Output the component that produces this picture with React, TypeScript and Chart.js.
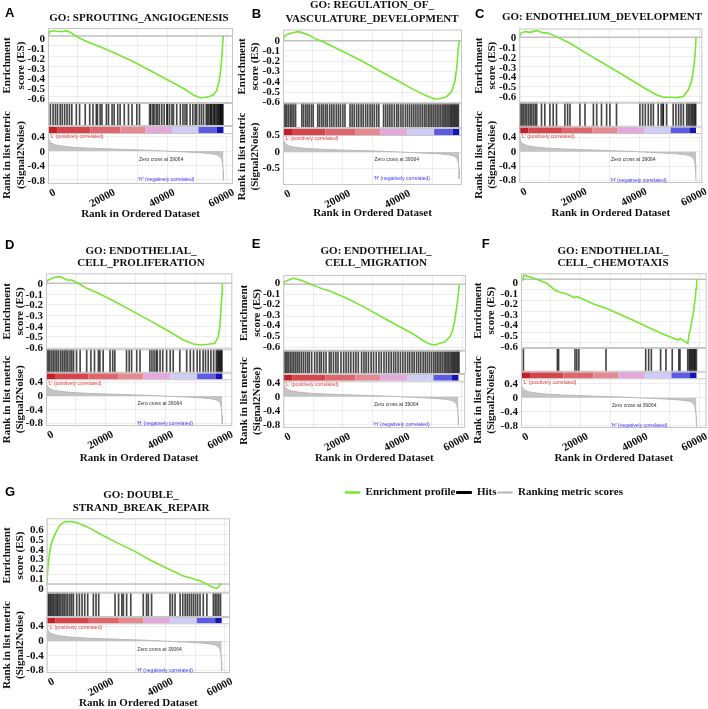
import React, { useEffect, useRef } from 'react';
import { Chart, registerables } from 'chart.js';

Chart.register(...registerables);

const SERIF = "'Liberation Serif', 'Times New Roman', serif";
const SANS = "'Liberation Sans', Arial, sans-serif";
const LIME = '#78e632';
const TEXT = '#111111';
const GRID = 'rgba(0,0,0,0.07)';
const FRAME = '#c6c6c6';
const HIT_COLOR = 'rgba(0,0,0,0.72)';
const FONT_PX = 11;
const LINE_H = FONT_PX * 1.2;

// ---------------- shared ranked list ----------------
const rankedListLength = 58900;
const zeroCrossRank = 39064;
const xTickValues = [0, 10000, 20000, 30000, 40000, 50000, 60000];
const xLabelEvery = 20000;
const esTicksNegative = [0, -0.1, -0.2, -0.3, -0.4, -0.5, -0.6];
const esTicksPositive = [0, 0.1, 0.2, 0.3, 0.4, 0.5, 0.6];
const metricTicksStd = [0.4, 0, -0.4, -0.8];
const metricTicksB = [0.5, 0, -0.5];

const metricRanks = [0, 200, 600, 1200, 2500, 4500, 7000, 10000, 14000, 19000, 25000, 31000, 36000, 39064, 43000, 48000, 52000, 55000, 56800, 57800, 58300, 58600, 58800, 58900];
const metricValues = [0.42, 0.34, 0.27, 0.22, 0.17, 0.14, 0.115, 0.095, 0.078, 0.062, 0.045, 0.028, 0.012, 0, -0.015, -0.035, -0.055, -0.08, -0.11, -0.16, -0.23, -0.35, -0.55, -0.82];

const bandEdges = [0, 3000, 14200, 24300, 32600, 41600, 50500, 56700, 58900];
const bandColors = ['#c41f26', '#d7444a', '#df666c', '#e78a90', '#e5a8dc', '#cdcdf7', '#5b5be6', '#1414b2'];

const metricLabelL = "'L' (positively correlated)";
const metricLabelH = "'H' (negatively correlated)";
const metricLabelZero = 'Zero cross at ' + zeroCrossRank;
const labelLRank = 600;
const labelZeroRank = 38000;
const labelZeroValue = -0.23;
const labelHRank = 39700;
const labelHValue = -0.8;

const legendLabels = ['Enrichment profile', 'Hits', 'Ranking metric scores'];
const legendColors = [LIME, '#000000', '#b4b4b4'];
const legendLineWidths = [0.5, 1, 0];

// ---------------- A: SPROUTING_ANGIOGENESIS ----------------
const titleA = ['GO: SPROUTING_ANGIOGENESIS'];
const esRankA = [0, 560, 1900, 4700, 5800, 7500, 9700, 13100, 17500, 23100, 28700, 34300, 39900, 45500, 48800, 51000, 53300, 55500, 56600, 57500, 58100, 58500, 58800];
const esScoreA = [0, 0.043, 0.053, 0.043, 0.053, 0.037, -0.007, -0.057, -0.107, -0.18, -0.257, -0.345, -0.435, -0.525, -0.59, -0.617, -0.613, -0.59, -0.547, -0.44, -0.307, -0.14, 0];
const hitsA = [800, 1700, 2500, 3200, 4100, 4800, 5600, 6400, 7200, 8000, 9500, 10600, 12500, 14000, 15100, 16200, 16600, 17500, 18100, 19600, 20300, 21500, 22200, 23400, 24200, 25600, 27000, 28200, 29800, 30700, 34100, 34500, 35200, 35600, 36300, 36800, 37400, 38200, 39000, 39900, 40100, 40800, 41600, 42100, 43200, 44400, 45300, 46000, 46600, 47700, 48600, 49400, 49900, 50800, 51500, 52200, 53100, 53500, 53900, 54400, 54700, 55000, 55500, 55800, 56100, 56600, 56900, 57200, 57500, 57800, 58000, 58200, 58500, 58700];

// ---------------- B: REGULATION_OF_VASCULATURE_DEVELOPMENT ----------------
const titleB = ['GO: REGULATION_OF_', 'VASCULATURE_DEVELOPMENT'];
const esRankB = [0, 560, 1700, 3300, 5000, 6100, 8400, 11200, 13400, 15600, 21200, 26800, 32300, 37900, 43500, 47900, 50700, 52400, 54600, 56300, 57400, 58100, 58500, 58900];
const esScoreB = [0, 0.045, 0.065, 0.078, 0.088, 0.081, 0.058, 0.013, -0.01, -0.042, -0.123, -0.205, -0.295, -0.383, -0.474, -0.536, -0.568, -0.565, -0.545, -0.497, -0.4, -0.253, -0.091, 0];
const hitsB = [300, 800, 1300, 1900, 2500, 3000, 3600, 4200, 6300, 6900, 7600, 8200, 8800, 9500, 10100, 11600, 12200, 12900, 13500, 14200, 14800, 15600, 16300, 17000, 17800, 18500, 19200, 20000, 20700, 22400, 23100, 23800, 24600, 25300, 26100, 26800, 27600, 28300, 29100, 29800, 30500, 31300, 32000, 33600, 34300, 35000, 35700, 36400, 37200, 38000, 38600, 39400, 40100, 40900, 41600, 42300, 43000, 43700, 44400, 45100, 45800, 46500, 47200, 47800, 48500, 49100, 49700, 50300, 50900, 51500, 52100, 52700, 53300, 53800, 54300, 54800, 55300, 55800, 56200, 56600, 57000, 57400, 57800, 58200, 58600];

// ---------------- C: ENDOTHELIUM_DEVELOPMENT ----------------
const titleC = ['GO: ENDOTHELIUM_DEVELOPMENT'];
const esRankC = [0, 440, 1900, 3600, 5800, 7400, 9700, 12400, 16900, 22400, 28000, 33600, 39100, 42400, 45800, 48000, 50200, 52400, 54700, 56300, 57400, 58200, 58700, 58900];
const esScoreC = [0, 0.04, 0.058, 0.05, 0.068, 0.05, 0.04, 0.007, -0.061, -0.163, -0.264, -0.366, -0.468, -0.529, -0.586, -0.61, -0.61, -0.614, -0.603, -0.536, -0.45, -0.298, -0.129, 0];
const hitsC = [300, 800, 1300, 1900, 2400, 3000, 3600, 4100, 4700, 5300, 5800, 7400, 8500, 10200, 11300, 12400, 15200, 16100, 16900, 20200, 21900, 24700, 25800, 27400, 29100, 30200, 32400, 40200, 41100, 42000, 43000, 43900, 44700, 46300, 47300, 47900, 48000, 49100, 51300, 52200, 53100, 53900, 54700, 55800, 56300, 56800, 57300, 57700, 58100, 58500, 58800];

// ---------------- D: ENDOTHELIAL_CELL_PROLIFERATION ----------------
const titleD = ['GO: ENDOTHELIAL_', 'CELL_PROLIFERATION'];
const esRankD = [0, 450, 1300, 3000, 4100, 5200, 6900, 8600, 10800, 13600, 18000, 23600, 29200, 34700, 40300, 45900, 49200, 51400, 54200, 56400, 57500, 58100, 58500, 58800, 58900];
const esScoreD = [0, 0.025, 0.037, 0.056, 0.062, 0.056, 0.031, 0.031, 0, -0.047, -0.1, -0.18, -0.265, -0.349, -0.436, -0.53, -0.567, -0.576, -0.57, -0.56, -0.5, -0.405, -0.218, -0.093, 0];
const hitsD = [200, 700, 1200, 1800, 2400, 3000, 3600, 4200, 4900, 5500, 6100, 6700, 7300, 8000, 8600, 9200, 10200, 11400, 13600, 15000, 16200, 17500, 18000, 19100, 21400, 22300, 23000, 26900, 27800, 28600, 30300, 31400, 34700, 35400, 36100, 36800, 37200, 38100, 39000, 40300, 41500, 42500, 44700, 47000, 48200, 49300, 50500, 51400, 52500, 53300, 54200, 55100, 56000, 56900, 57300, 57600, 57900, 58200, 58500, 58800];

// ---------------- E: ENDOTHELIAL_CELL_MIGRATION ----------------
const titleE = ['GO: ENDOTHELIAL_', 'CELL_MIGRATION'];
const esRankE = [0, 560, 1700, 3300, 4500, 6100, 8900, 11200, 13400, 15600, 21200, 26800, 32400, 37900, 43500, 47400, 49100, 50800, 52400, 54100, 55800, 56700, 57400, 57900, 58500, 58900];
const esScoreE = [0, 0.025, 0.041, 0.057, 0.05, 0.035, 0.003, -0.022, -0.047, -0.063, -0.132, -0.211, -0.3, -0.385, -0.47, -0.543, -0.565, -0.574, -0.558, -0.543, -0.495, -0.432, -0.338, -0.243, -0.117, 0];
const hitsE = [200, 700, 1200, 1700, 2300, 2900, 3500, 4100, 4700, 5300, 6000, 6700, 7400, 8100, 8700, 9500, 10500, 11300, 12100, 12700, 13500, 14300, 15400, 16000, 16800, 17600, 18300, 19300, 20200, 21000, 21800, 22600, 23500, 24300, 25100, 26200, 27000, 27700, 28500, 29400, 30200, 31100, 32000, 32800, 33700, 34500, 35300, 36100, 36900, 37600, 38400, 39200, 40000, 40800, 41600, 42300, 43100, 43800, 44600, 45300, 46000, 46800, 47500, 48200, 48900, 49600, 50300, 50900, 51500, 52100, 52700, 53300, 53900, 54400, 54900, 55400, 55900, 56400, 56800, 57200, 57600, 58000, 58400, 58800];

// ---------------- F: ENDOTHELIAL_CELL_CHEMOTAXIS ----------------
const titleF = ['GO: ENDOTHELIAL_', 'CELL_CHEMOTAXIS'];
const esRankF = [0, 560, 1000, 1900, 5300, 8600, 11700, 12200, 12500, 15300, 17900, 18400, 19800, 22000, 24300, 28500, 29800, 35400, 41000, 46600, 51100, 52800, 53300, 55000, 55900, 56400, 56900, 57300, 57800, 58100, 58500, 58700, 58900];
const esScoreF = [0, -0.006, 0.041, 0.032, 0, -0.038, -0.11, -0.107, -0.117, -0.139, -0.174, -0.164, -0.174, -0.202, -0.233, -0.274, -0.29, -0.36, -0.432, -0.505, -0.558, -0.574, -0.558, -0.59, -0.606, -0.511, -0.464, -0.385, -0.322, -0.243, -0.164, -0.085, 0];
const hitsF = [800, 12200, 12600, 18100, 18700, 19400, 28500, 41800, 42800, 43700, 46800, 48600, 50700, 52900, 53300, 55900, 56400, 56700, 57100, 57400, 57800, 58100, 58400, 58800];

// ---------------- G: DOUBLE_STRAND_BREAK_REPAIR ----------------
const titleG = ['GO: DOUBLE_', 'STRAND_BREAK_REPAIR'];
const esRankG = [0, 340, 800, 1300, 2200, 3400, 4500, 5600, 6700, 8400, 10100, 13500, 18000, 23600, 29200, 34800, 40400, 46000, 51600, 55000, 57200, 57900, 58300, 58900];
const esScoreG = [0, 0.142, 0.277, 0.378, 0.463, 0.54, 0.598, 0.622, 0.632, 0.632, 0.622, 0.581, 0.507, 0.419, 0.338, 0.243, 0.159, 0.081, 0.034, -0.02, -0.047, -0.027, -0.003, 0];
const hitsG = [300, 700, 1100, 1500, 2000, 2400, 2900, 3400, 3800, 4300, 4800, 5400, 5900, 6500, 7100, 7800, 8400, 9000, 10100, 11000, 11900, 12800, 13800, 15700, 16600, 17500, 23000, 24200, 25300, 25800, 26900, 28300, 32500, 33600, 34200, 35300, 41500, 42300, 43200, 44900, 45800, 46600, 47300, 48000, 48700, 49400, 50100, 50800, 51600, 52700, 53900, 56100, 56700, 57300, 57900, 58500];

// ---------------- layout (pixel geometry of each panel) ----------------
type Geo = {
  box: number[]; L: number; R: number; dataEndX: number;
  esTop: number; esZero: number; esStep: number; esBot: number;
  bandTop: number; bandBot: number; metZero: number; metStep: number; metBot: number;
  xTitleY: number; yTitleX: number; titleCX: number; titleY: number[];
  letterX: number; letterY: number; esLabelOffset: number; metLabelOffset: number;
};

type PanelDef = {
  letter: string; title: string[]; esRanks: number[]; esScores: number[]; hits: number[];
  esTicks: number[]; metricTicks: number[]; geo: Geo;
};

const panels: PanelDef[] = [
  { letter: 'A', title: titleA, esRanks: esRankA, esScores: esScoreA, hits: hitsA, esTicks: esTicksNegative, metricTicks: metricTicksStd,
    geo: { box: [0, 0, 235, 230], L: 48, R: 233, dataEndX: 223.5, esTop: 28, esZero: 36, esStep: 10, esBot: 103, bandTop: 126, bandBot: 133, metZero: 151, metStep: 3.6, metBot: 184, xTitleY: 214.3, yTitleX: 7.5, titleCX: 139, titleY: [18], letterX: 5, letterY: 8, esLabelOffset: 3.3, metLabelOffset: 1 } },
  { letter: 'B', title: titleB, esRanks: esRankB, esScores: esScoreB, hits: hitsB, esTicks: esTicksNegative, metricTicks: metricTicksB,
    geo: { box: [235, 0, 235, 230], L: 283, R: 462, dataEndX: 459.3, esTop: 29.5, esZero: 40.7, esStep: 10.27, esBot: 103.3, bandTop: 128, bandBot: 135, metZero: 152, metStep: 3.3, metBot: 185, xTitleY: 213.3, yTitleX: 242, titleCX: 372, titleY: [5.5, 19], letterX: 251.7, letterY: 8.3, esLabelOffset: 0, metLabelOffset: 0 } },
  { letter: 'C', title: titleC, esRanks: esRankC, esScores: esScoreC, hits: hitsC, esTicks: esTicksNegative, metricTicks: metricTicksStd,
    geo: { box: [470, 0, 238, 230], L: 519.3, R: 702.3, dataEndX: 696, esTop: 28.5, esZero: 37.3, esStep: 9.83, esBot: 102.7, bandTop: 126.7, bandBot: 133, metZero: 151.7, metStep: 3.6, metBot: 183, xTitleY: 213.3, yTitleX: 479, titleCX: 602, titleY: [17.3], letterX: 475, letterY: 8.3, esLabelOffset: 1, metLabelOffset: 0 } },
  { letter: 'D', title: titleD, esRanks: esRankD, esScores: esScoreD, hits: hitsD, esTicks: esTicksNegative, metricTicks: metricTicksStd,
    geo: { box: [0, 230, 235, 238], L: 46, R: 232.3, dataEndX: 222.3, esTop: 273.3, esZero: 283.3, esStep: 10.7, esBot: 349.3, bandTop: 372.7, bandBot: 379.3, metZero: 396, metStep: 3.43, metBot: 426, xTitleY: 458, yTitleX: 7, titleCX: 141, titleY: [250.7, 263.3], letterX: 5, letterY: 240, esLabelOffset: 0.7, metLabelOffset: 0 } },
  { letter: 'E', title: titleE, esRanks: esRankE, esScores: esScoreE, hits: hitsE, esTicks: esTicksNegative, metricTicks: metricTicksStd,
    geo: { box: [235, 230, 235, 238], L: 283.3, R: 466, dataEndX: 459.3, esTop: 275, esZero: 284.3, esStep: 10.57, esBot: 350.7, bandTop: 374, bandBot: 380.7, metZero: 396.7, metStep: 3.5, metBot: 428, xTitleY: 458, yTitleX: 243.8, titleCX: 376, titleY: [250.7, 263.3], letterX: 251.7, letterY: 238.3, esLabelOffset: -1, metLabelOffset: 0 } },
  { letter: 'F', title: titleF, esRanks: esRankF, esScores: esScoreF, hits: hitsF, esTicks: esTicksNegative, metricTicks: metricTicksStd,
    geo: { box: [470, 230, 238, 238], L: 521, R: 706.7, dataEndX: 696.7, esTop: 273.3, esZero: 279.3, esStep: 10.57, esBot: 348, bandTop: 371.7, bandBot: 378.3, metZero: 397.7, metStep: 3.5, metBot: 428, xTitleY: 458, yTitleX: 478, titleCX: 613, titleY: [250.7, 263.3], letterX: 481.7, letterY: 238.3, esLabelOffset: 4, metLabelOffset: 0 } },
  { letter: 'G', title: titleG, esRanks: esRankG, esScores: esScoreG, hits: hitsG, esTicks: esTicksPositive, metricTicks: metricTicksStd,
    geo: { box: [0, 460, 235, 249], L: 46.7, R: 230, dataEndX: 221.7, esTop: 518.3, esZero: 584, esStep: 9.87, esBot: 592.7, bandTop: 617, bandBot: 623.3, metZero: 641, metStep: 3.67, metBot: 673, xTitleY: 703.3, yTitleX: 7.2, titleCX: 141, titleY: [495, 508.3], letterX: 5, letterY: 486.7, esLabelOffset: 5.2, metLabelOffset: 0 } },
];

const boldFont = { family: SERIF, size: FONT_PX, weight: 'bold' as const };
const fmtTick = (v: any) => (Math.abs(Number(v)) < 1e-9 ? '0' : Number(v).toFixed(1));
const setTicks = (vals: number[]) => (scale: any) => {
  scale.ticks = vals.map((v) => ({ value: v }));
};
const baseOptions = {
  responsive: false,
  animation: false as const,
  events: [] as any[],
  plugins: { legend: { display: false }, tooltip: { enabled: false }, title: { display: false } },
};

function drawFrame(ctx: CanvasRenderingContext2D, a: any) {
  ctx.save();
  ctx.strokeStyle = FRAME;
  ctx.lineWidth = 1;
  ctx.strokeRect(a.left + 0.5, a.top + 0.5, a.right - a.left - 1, a.bottom - a.top - 1);
  ctx.restore();
}

function buildPanel(p: PanelDef, c1: HTMLCanvasElement, c2: HTMLCanvasElement, c3: HTMLCanvasElement): Chart[] {
  const g = p.geo;
  const [px, py, pw, ph] = g.box;
  const xMax = (rankedListLength * (g.R - g.L)) / (g.dataEndX - g.L);
  const axisLeft = g.yTitleX - LINE_H / 2;
  const axisW = g.L - axisLeft;
  const padRight = px + pw - g.R;
  const esUnit = g.esStep * 10;
  const esMax = (g.esZero - g.esTop) / esUnit;
  const esMin = -(g.esBot - g.esZero) / esUnit;
  const metUnit = g.metStep * 10;
  const metMax = (g.metZero - g.bandTop) / metUnit;
  const metMin = -(g.metBot - g.metZero) / metUnit;
  const padBottomMetric = ph - LINE_H / 2 - (g.xTitleY - py);
  const xAxisH = ph - padBottomMetric - (g.metBot - py);
  const bandH = g.bandBot - g.bandTop;
  const xTicks = xTickValues.filter((v) => v <= xMax);

  const es = new Chart(c1, {
    type: 'line',
    data: {
      datasets: [{
        data: p.esRanks.map((r, i) => ({ x: r, y: p.esScores[i] })),
        borderColor: LIME, borderWidth: 1.6, pointRadius: 0, fill: false, tension: 0,
      }],
    },
    options: {
      ...baseOptions,
      layout: { padding: { left: axisLeft - px, right: padRight, top: g.esTop - py, bottom: py + ph - g.esBot } },
      scales: {
        x: {
          type: 'linear', min: 0, max: xMax, offset: false, afterBuildTicks: setTicks(xTicks),
          ticks: { display: false }, grid: { color: GRID, drawTicks: false }, border: { display: false },
        },
        y: {
          type: 'linear', min: esMin, max: esMax, afterBuildTicks: setTicks(p.esTicks),
          afterFit: (s: any) => { s.width = axisW; },
          ticks: { font: boldFont, color: TEXT, padding: 3, autoSkip: false, labelOffset: g.esLabelOffset, callback: fmtTick },
          grid: { color: GRID, drawTicks: false }, border: { display: false },
          title: { display: true, text: ['Enrichment', 'score (ES)'], font: boldFont, color: TEXT, padding: 0 },
        },
      },
    } as any,
    plugins: [{
      id: 'esDecor',
      beforeDatasetsDraw(chart: any) {
        const { ctx, chartArea: a, scales } = chart;
        const y0 = scales.y.getPixelForValue(0);
        ctx.save();
        ctx.strokeStyle = '#c2c2c2';
        ctx.lineWidth = 1.5;
        ctx.beginPath();
        ctx.moveTo(a.left, y0);
        ctx.lineTo(a.right, y0);
        ctx.stroke();
        ctx.restore();
      },
      afterDraw(chart: any) {
        const { ctx, chartArea: a } = chart;
        drawFrame(ctx, a);
        ctx.save();
        ctx.font = `bold ${FONT_PX}px ${SERIF}`;
        ctx.fillStyle = TEXT;
        ctx.textAlign = 'center';
        ctx.textBaseline = 'middle';
        p.title.forEach((line, i) => ctx.fillText(line, g.titleCX - px, g.titleY[i] - py));
        ctx.restore();
      },
    }],
  });

  const hits = new Chart(c2, {
    type: 'bar',
    data: {
      datasets: [{
        data: p.hits.map((r) => ({ x: r, y: 1 })),
        backgroundColor: HIT_COLOR, barThickness: 1, borderWidth: 0,
      }],
    },
    options: {
      ...baseOptions,
      layout: { padding: { left: g.L - px, right: padRight, top: g.esBot - py, bottom: py + ph - g.bandTop } },
      scales: {
        x: { type: 'linear', min: 0, max: xMax, offset: false, display: false, grid: { offset: false } },
        y: { type: 'linear', min: 0, max: 1, display: false },
      },
    } as any,
    plugins: [{ id: 'hitsFrame', afterDraw(chart: any) { drawFrame(chart.ctx, chart.chartArea); } }],
  });

  const metric = new Chart(c3, {
    type: 'line',
    data: {
      datasets: [{
        data: metricRanks.map((r, i) => ({ x: r, y: metricValues[i] })),
        borderColor: '#b9b9b9', borderWidth: 1, backgroundColor: '#c4c4c4', fill: 'origin', pointRadius: 0, tension: 0,
      }],
    },
    options: {
      ...baseOptions,
      layout: { padding: { left: axisLeft - px, right: padRight, top: g.bandTop - py, bottom: padBottomMetric } },
      scales: {
        x: {
          type: 'linear', min: 0, max: xMax, offset: false, afterBuildTicks: setTicks(xTicks),
          afterFit: (s: any) => { s.height = xAxisH; },
          ticks: {
            font: boldFont, color: TEXT, autoSkip: false, minRotation: 28, maxRotation: 28, labelOffset: 7, padding: 2,
            callback: (v: any) => (Number(v) % xLabelEvery === 0 ? String(v) : ''),
          },
          grid: { color: GRID, drawTicks: false }, border: { display: false },
          title: { display: true, text: 'Rank in Ordered Dataset', font: boldFont, color: TEXT, padding: 0 },
        },
        y: {
          type: 'linear', min: metMin, max: metMax, afterBuildTicks: setTicks(p.metricTicks),
          afterFit: (s: any) => { s.width = axisW; },
          ticks: { font: boldFont, color: TEXT, padding: 3, autoSkip: false, labelOffset: g.metLabelOffset, callback: fmtTick },
          grid: { color: GRID, drawTicks: false }, border: { display: false },
          title: { display: true, text: ['Rank in list metric', '(Signal2Noise)'], font: boldFont, color: TEXT, padding: 0 },
        },
      },
    } as any,
    plugins: [{
      id: 'bandDecor',
      afterDatasetsDraw(chart: any) {
        const { ctx, chartArea: a, scales } = chart;
        const xs = scales.x;
        const ys = scales.y;
        ctx.save();
        ctx.fillStyle = '#ffffff';
        ctx.fillRect(a.left, a.top, a.right - a.left, bandH);
        for (let i = 0; i < bandColors.length; i++) {
          const x1 = xs.getPixelForValue(bandEdges[i]);
          const x2 = xs.getPixelForValue(bandEdges[i + 1]);
          ctx.fillStyle = bandColors[i];
          ctx.fillRect(x1, a.top, x2 - x1, bandH);
        }
        drawFrame(ctx, a);
        ctx.strokeStyle = FRAME;
        ctx.lineWidth = 1;
        ctx.beginPath();
        ctx.moveTo(a.left, a.top + bandH + 0.5);
        ctx.lineTo(a.right, a.top + bandH + 0.5);
        ctx.stroke();

        ctx.font = `5px ${SANS}`;
        ctx.textBaseline = 'top';
        ctx.textAlign = 'left';
        ctx.fillStyle = '#e0403c';
        ctx.fillText(metricLabelL, xs.getPixelForValue(labelLRank), a.top + bandH + 1.5);
        ctx.textBaseline = 'middle';
        ctx.textAlign = 'center';
        ctx.fillStyle = '#333333';
        ctx.fillText(metricLabelZero, xs.getPixelForValue(labelZeroRank), ys.getPixelForValue(labelZeroValue));
        ctx.fillStyle = '#3a3aff';
        ctx.fillText(metricLabelH, xs.getPixelForValue(labelHRank), ys.getPixelForValue(labelHValue));
        ctx.restore();
      },
    }],
  });

  return [es, hits, metric];
}

function Panel({ panel }: { panel: PanelDef }) {
  const r1 = useRef<HTMLCanvasElement>(null);
  const r2 = useRef<HTMLCanvasElement>(null);
  const r3 = useRef<HTMLCanvasElement>(null);
  useEffect(() => {
    const charts = buildPanel(panel, r1.current!, r2.current!, r3.current!);
    return () => charts.forEach((c) => c.destroy());
  }, [panel]);
  const g = panel.geo;
  const [px, py, pw, ph] = g.box;
  const style: React.CSSProperties = { position: 'absolute', left: px, top: py, width: pw, height: ph };
  return (
    <>
      <canvas ref={r1} width={pw} height={ph} style={style} />
      <canvas ref={r2} width={pw} height={ph} style={style} />
      <canvas ref={r3} width={pw} height={ph} style={style} />
      <div
        style={{
          position: 'absolute', left: g.letterX, top: g.letterY - 1.7, fontFamily: SANS, fontWeight: 'bold',
          fontSize: 13, lineHeight: '13px', color: '#000',
        }}
      >
        {panel.letter}
      </div>
    </>
  );
}

function LegendBox() {
  const ref = useRef<HTMLCanvasElement>(null);
  useEffect(() => {
    const chart = new Chart(ref.current!, {
      type: 'line',
      data: {
        datasets: legendLabels.map((l, i) => ({ label: l, data: [], borderColor: legendColors[i], backgroundColor: legendColors[i] })),
      },
      options: {
        responsive: false,
        animation: false,
        events: [],
        layout: { padding: 0 },
        scales: { x: { display: false }, y: { display: false } },
        plugins: {
          tooltip: { enabled: false },
          legend: {
            display: true, position: 'top', align: 'center',
            labels: {
              boxWidth: 15, boxHeight: 2, padding: 1, color: TEXT, font: boldFont,
              generateLabels: () => legendLabels.map((t, i) => ({
                text: t, fillStyle: legendColors[i], strokeStyle: legendColors[i], lineWidth: legendLineWidths[i],
                hidden: false, datasetIndex: i, fontColor: TEXT,
              })),
            },
          },
        },
      } as any,
    });
    return () => chart.destroy();
  }, []);
  return <canvas ref={ref} width={310} height={20} style={{ position: 'absolute', left: 329, top: 486, width: 310, height: 20 }} />;
}

export default function App() {
  return (
    <div style={{ position: 'fixed', left: 0, top: 0, width: 708, height: 709, background: '#ffffff', overflow: 'hidden' }}>
      {panels.map((p) => (
        <Panel key={p.letter} panel={p} />
      ))}
      <LegendBox />
    </div>
  );
}
